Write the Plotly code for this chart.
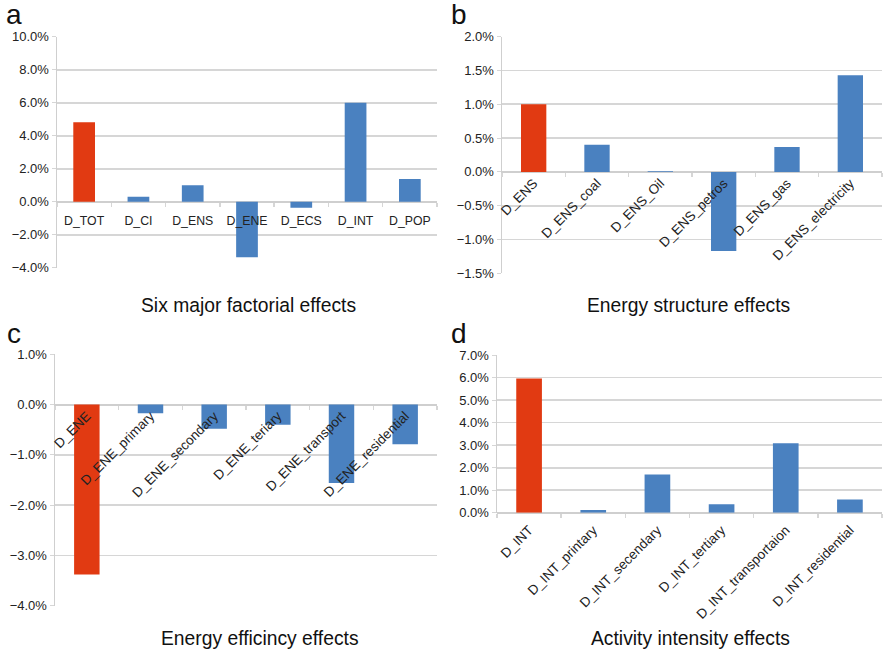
import plotly.graph_objects as go

W, H = 885, 652

# ---- data (values in percent) ----
a_cats = ["D_TOT", "D_CI", "D_ENS", "D_ENE", "D_ECS", "D_INT", "D_POP"]
a_vals = [4.82, 0.30, 1.00, -3.37, -0.36, 6.00, 1.37]

b_cats = ["D_ENS", "D_ENS_coal", "D_ENS_Oil", "D_ENS_petros", "D_ENS_gas", "D_ENS_electricity"]
b_vals = [1.00, 0.40, 0.01, -1.17, 0.37, 1.43]

c_cats = ["D_ENE", "D_ENE_primary", "D_ENE_secondary", "D_ENE_teriary", "D_ENE_transport", "D_ENE_residential"]
c_vals = [-3.38, -0.17, -0.48, -0.40, -1.56, -0.79]

d_cats = ["D_INT", "D_INT_printary", "D_INT_secendary", "D_INT_tertiary", "D_INT_transportaion", "D_INT_residential"]
d_vals = [5.96, 0.12, 1.70, 0.37, 3.08, 0.59]

titles = ["Six major factorial effects", "Energy structure effects",
          "Energy efficincy effects", "Activity intensity effects"]
letters = ["a", "b", "c", "d"]

RED = "#E13A12"
BLUE = "#4A81C0"
GRID = "#D6D6D6"
FONT = "Liberation Sans, Arial, Helvetica, sans-serif"

# panel layout in pixels: (x0, x1, ytop, ybottom, ymin, ymax, dtick, tickangle, labelsize, standoff)
panels = [
    (57, 437, 36.7, 267.7, -4, 10, 2, 0, 12.3, 10),
    (502, 882, 36.7, 273.3, -1.5, 2, 0.5, -45, 13.5, 0),
    (55, 437, 354.3, 605.7, -4, 1, 1, -45, 13.5, 0),
    (497, 882, 355, 512.7, 0, 7, 1, -45, 13.5, 6),
]
title_pos = [(248, 305), (688, 305), (260, 638), (690, 638)]
letter_pos = [(14, 15), (459, 15), (14, 333), (459, 333)]

data = [(a_cats, a_vals), (b_cats, b_vals), (c_cats, c_vals), (d_cats, d_vals)]

fig = go.Figure()
annotations = []
for i, ((cats, vals), p) in enumerate(zip(data, panels)):
    x0, x1, yt, yb, ymin, ymax, dt, ang, lsz, so = p
    n = i + 1
    xa = "x" if n == 1 else f"x{n}"
    ya = "y" if n == 1 else f"y{n}"
    colors = [RED] + [BLUE] * (len(cats) - 1)
    fig.add_trace(go.Bar(
        x=cats, y=[v / 100 for v in vals], xaxis=xa, yaxis=ya,
        marker=dict(color=colors, line=dict(width=0)),
        width=0.4, showlegend=False,
    ))
    ydom = [1 - yb / H, 1 - yt / H]
    zero_pos = ydom[0] + (0 - ymin) / (ymax - ymin) * (ydom[1] - ydom[0])
    xkey = "xaxis" if n == 1 else f"xaxis{n}"
    ykey = "yaxis" if n == 1 else f"yaxis{n}"
    fig.update_layout(**{
        xkey: dict(
            domain=[x0 / W, x1 / W], anchor="free", position=zero_pos,
            type="category", tickson="boundaries", ticks="outside", ticklen=4,
            tickcolor=GRID, tickwidth=1.5, showgrid=False, showline=False,
            tickangle=ang, tickfont=dict(family=FONT, size=lsz, color="#222"),
            ticklabelstandoff=so,
            automargin=False, fixedrange=True,
        ),
        ykey: dict(
            domain=ydom, anchor=xa, range=[ymin / 100, ymax / 100],
            dtick=dt / 100, tick0=0, tickformat=".1%",
            showgrid=True, gridcolor=GRID, gridwidth=1.8,
            zeroline=True, zerolinecolor="#CFCFCF", zerolinewidth=2,
            showline=True, linecolor="#CFCFCF", linewidth=1.5,
            ticks="outside", ticklen=4, tickcolor=GRID,
            tickfont=dict(family=FONT, size=13, color="#222"),
            automargin=False, fixedrange=True,
        ),
    })
    tx, ty = title_pos[i]
    annotations.append(dict(
        x=tx / W, y=1 - ty / H, xref="paper", yref="paper", text=titles[i],
        showarrow=False, xanchor="center", yanchor="middle",
        font=dict(family=FONT, size=19.3, color="#111"),
    ))
    lx, ly = letter_pos[i]
    annotations.append(dict(
        x=lx / W, y=1 - ly / H, xref="paper", yref="paper", text=letters[i],
        showarrow=False, xanchor="center", yanchor="middle",
        font=dict(family=FONT, size=28, color="#111"),
    ))

fig.update_layout(
    width=W, height=H, margin=dict(l=0, r=0, t=0, b=0, autoexpand=False),
    paper_bgcolor="white", plot_bgcolor="white",
    bargap=0.6, annotations=annotations,
)

fig.write_html(
    "out.html",
    config={"displayModeBar": False, "staticPlot": True},
    post_script="document.body.style.margin='0';document.body.style.overflow='hidden';",
)
